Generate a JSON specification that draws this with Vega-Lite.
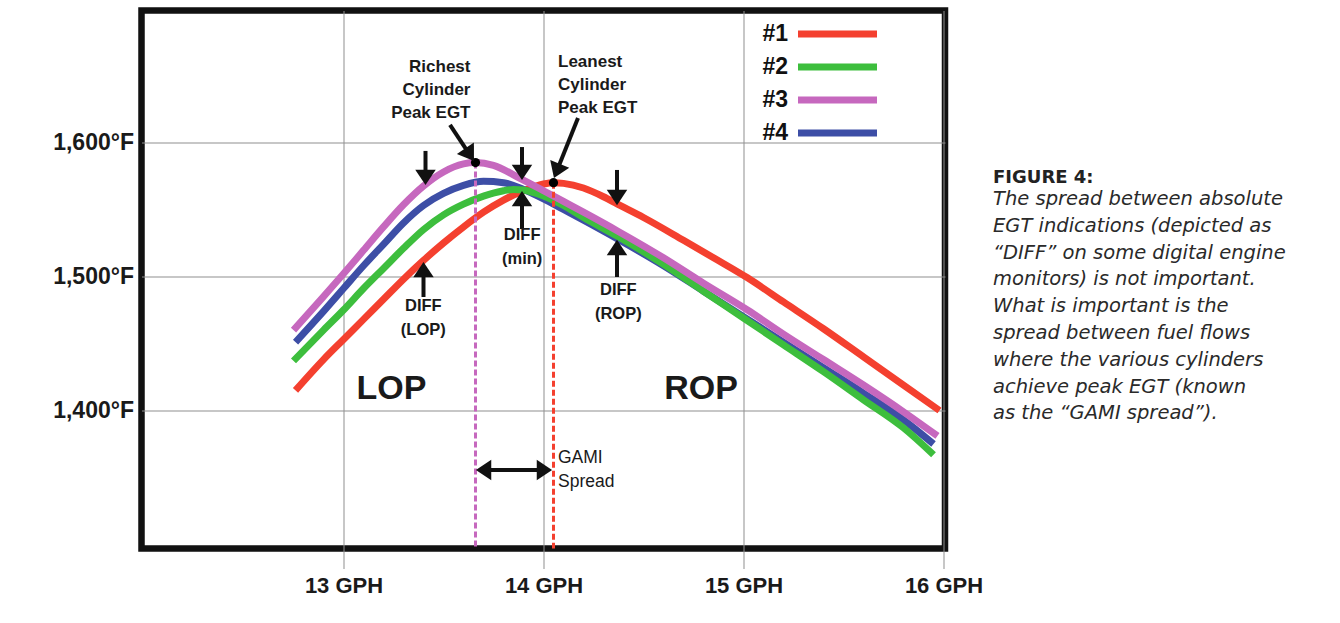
{
  "$schema": "https://vega.github.io/schema/vega-lite/v6.json",
  "width": 803.5,
  "height": 538,
  "autosize": {"type": "none"},
  "padding": {"left": 141.5, "top": 10.5, "right": 395, "bottom": 74.5},
  "background": "#ffffff",
  "config": {
    "view": {"stroke": "#111111", "strokeWidth": 6.5},
    "axis": {
      "domain": false,
      "grid": true,
      "gridColor": "#8f8f8f",
      "gridWidth": 1,
      "labelFont": "Liberation Sans",
      "labelFontWeight": "bold",
      "labelColor": "#1a1a1a",
      "labelFlush": false,
      "labelOverlap": false,
      "labelBound": false,
      "title": null
    },
    "text": {"color": "#1a1a1a"}
  },
  "datasets": {
    "curves": [
      {"cyl": "#1", "gph": 12.76, "egt": 1415},
      {"cyl": "#1", "gph": 12.9, "egt": 1438},
      {"cyl": "#1", "gph": 13.0, "egt": 1453},
      {"cyl": "#1", "gph": 13.1, "egt": 1468},
      {"cyl": "#1", "gph": 13.2, "egt": 1483},
      {"cyl": "#1", "gph": 13.3, "egt": 1498},
      {"cyl": "#1", "gph": 13.4, "egt": 1512},
      {"cyl": "#1", "gph": 13.5, "egt": 1525},
      {"cyl": "#1", "gph": 13.6, "egt": 1537},
      {"cyl": "#1", "gph": 13.7, "egt": 1548},
      {"cyl": "#1", "gph": 13.8, "egt": 1557},
      {"cyl": "#1", "gph": 13.9, "egt": 1564},
      {"cyl": "#1", "gph": 14.0, "egt": 1569},
      {"cyl": "#1", "gph": 14.05, "egt": 1570},
      {"cyl": "#1", "gph": 14.1, "egt": 1569.5},
      {"cyl": "#1", "gph": 14.2, "egt": 1566},
      {"cyl": "#1", "gph": 14.3, "egt": 1559.5},
      {"cyl": "#1", "gph": 14.37, "egt": 1554},
      {"cyl": "#1", "gph": 14.5, "egt": 1544},
      {"cyl": "#1", "gph": 14.7, "egt": 1527},
      {"cyl": "#1", "gph": 14.85, "egt": 1514},
      {"cyl": "#1", "gph": 15.02, "egt": 1499},
      {"cyl": "#1", "gph": 15.2, "egt": 1481},
      {"cyl": "#1", "gph": 15.4, "egt": 1461},
      {"cyl": "#1", "gph": 15.6, "egt": 1440},
      {"cyl": "#1", "gph": 15.8, "egt": 1419},
      {"cyl": "#1", "gph": 15.98, "egt": 1400},
      {"cyl": "#4", "gph": 12.76, "egt": 1451},
      {"cyl": "#4", "gph": 12.9, "egt": 1474},
      {"cyl": "#4", "gph": 13.0, "egt": 1491},
      {"cyl": "#4", "gph": 13.1, "egt": 1508},
      {"cyl": "#4", "gph": 13.2, "egt": 1524},
      {"cyl": "#4", "gph": 13.3, "egt": 1540},
      {"cyl": "#4", "gph": 13.4, "egt": 1553},
      {"cyl": "#4", "gph": 13.5, "egt": 1562},
      {"cyl": "#4", "gph": 13.6, "egt": 1568},
      {"cyl": "#4", "gph": 13.7, "egt": 1571},
      {"cyl": "#4", "gph": 13.8, "egt": 1570},
      {"cyl": "#4", "gph": 13.9, "egt": 1565},
      {"cyl": "#4", "gph": 14.0, "egt": 1558},
      {"cyl": "#4", "gph": 14.1, "egt": 1550},
      {"cyl": "#4", "gph": 14.2, "egt": 1542},
      {"cyl": "#4", "gph": 14.37, "egt": 1528},
      {"cyl": "#4", "gph": 14.6, "egt": 1508},
      {"cyl": "#4", "gph": 14.8, "egt": 1489},
      {"cyl": "#4", "gph": 15.0, "egt": 1470},
      {"cyl": "#4", "gph": 15.2, "egt": 1451},
      {"cyl": "#4", "gph": 15.4, "egt": 1432},
      {"cyl": "#4", "gph": 15.6, "egt": 1413},
      {"cyl": "#4", "gph": 15.8, "egt": 1393},
      {"cyl": "#4", "gph": 15.95, "egt": 1375},
      {"cyl": "#2", "gph": 12.75, "egt": 1437},
      {"cyl": "#2", "gph": 12.9, "egt": 1460},
      {"cyl": "#2", "gph": 13.0, "egt": 1475},
      {"cyl": "#2", "gph": 13.1, "egt": 1491},
      {"cyl": "#2", "gph": 13.2, "egt": 1506},
      {"cyl": "#2", "gph": 13.3, "egt": 1521},
      {"cyl": "#2", "gph": 13.4, "egt": 1535},
      {"cyl": "#2", "gph": 13.5, "egt": 1546},
      {"cyl": "#2", "gph": 13.6, "egt": 1554},
      {"cyl": "#2", "gph": 13.7, "egt": 1560},
      {"cyl": "#2", "gph": 13.8, "egt": 1564},
      {"cyl": "#2", "gph": 13.85, "egt": 1565},
      {"cyl": "#2", "gph": 13.9, "egt": 1564.5},
      {"cyl": "#2", "gph": 14.0, "egt": 1560},
      {"cyl": "#2", "gph": 14.1, "egt": 1553},
      {"cyl": "#2", "gph": 14.2, "egt": 1544},
      {"cyl": "#2", "gph": 14.37, "egt": 1530},
      {"cyl": "#2", "gph": 14.6, "egt": 1509},
      {"cyl": "#2", "gph": 14.8, "egt": 1489},
      {"cyl": "#2", "gph": 15.0, "egt": 1469},
      {"cyl": "#2", "gph": 15.2, "egt": 1449},
      {"cyl": "#2", "gph": 15.4, "egt": 1429},
      {"cyl": "#2", "gph": 15.6, "egt": 1408},
      {"cyl": "#2", "gph": 15.8, "egt": 1387},
      {"cyl": "#2", "gph": 15.95, "egt": 1367},
      {"cyl": "#3", "gph": 12.75, "egt": 1460},
      {"cyl": "#3", "gph": 12.9, "egt": 1485},
      {"cyl": "#3", "gph": 13.0, "egt": 1502},
      {"cyl": "#3", "gph": 13.1, "egt": 1519.5},
      {"cyl": "#3", "gph": 13.2, "egt": 1537},
      {"cyl": "#3", "gph": 13.3, "egt": 1553.5},
      {"cyl": "#3", "gph": 13.4, "egt": 1567.5},
      {"cyl": "#3", "gph": 13.5, "egt": 1578},
      {"cyl": "#3", "gph": 13.6, "egt": 1584},
      {"cyl": "#3", "gph": 13.66, "egt": 1585},
      {"cyl": "#3", "gph": 13.75, "egt": 1583},
      {"cyl": "#3", "gph": 13.885, "egt": 1573},
      {"cyl": "#3", "gph": 14.0, "egt": 1564},
      {"cyl": "#3", "gph": 14.1, "egt": 1556},
      {"cyl": "#3", "gph": 14.2, "egt": 1548},
      {"cyl": "#3", "gph": 14.37, "egt": 1534},
      {"cyl": "#3", "gph": 14.6, "egt": 1514},
      {"cyl": "#3", "gph": 14.8, "egt": 1495},
      {"cyl": "#3", "gph": 15.02, "egt": 1475},
      {"cyl": "#3", "gph": 15.2, "egt": 1457},
      {"cyl": "#3", "gph": 15.4, "egt": 1438},
      {"cyl": "#3", "gph": 15.6, "egt": 1419},
      {"cyl": "#3", "gph": 15.8, "egt": 1399},
      {"cyl": "#3", "gph": 15.97, "egt": 1381}
    ],
    "peaks": [
      {"cyl": "#3", "gph": 13.66, "egt": 1585},
      {"cyl": "#1", "gph": 14.05, "egt": 1570}
    ],
    "arrows": [
      {"id": "lop-down", "gph": 13.41, "egt": 1593.7, "gph2": 13.41, "egt2": 1571.3, "angle": 180},
      {"id": "min-down", "gph": 13.8925, "egt": 1596.6, "gph2": 13.8925, "egt2": 1575, "angle": 180},
      {"id": "rop-down", "gph": 14.3675, "egt": 1579.5, "gph2": 14.3675, "egt2": 1556.3, "angle": 180},
      {"id": "lop-up", "gph": 13.4, "egt": 1484.7, "gph2": 13.4, "egt2": 1507.8, "angle": 0},
      {"id": "min-up", "gph": 13.8925, "egt": 1535.4, "gph2": 13.8925, "egt2": 1560.8, "angle": 0},
      {"id": "rop-up", "gph": 14.3675, "egt": 1499.6, "gph2": 14.3675, "egt2": 1524.3, "angle": 0},
      {"id": "richest", "gph": 13.5325, "egt": 1613.1, "gph2": 13.641, "egt2": 1588.7, "angle": 146},
      {"id": "leanest", "gph": 14.1725, "egt": 1618.3, "gph2": 14.06, "egt2": 1576.3, "angle": 202},
      {"id": "gami-left", "gph": 13.8525, "egt": 1355.6, "gph2": 13.6825, "egt2": 1355.6, "angle": 270},
      {"id": "gami-right", "gph": 13.8525, "egt": 1355.6, "gph2": 14.0225, "egt2": 1355.6, "angle": 90}
    ],
    "notes": [
      {"role": "callout-right", "text": "Richest\nCylinder\nPeak EGT", "gph": 13.635, "egt": 1656.6},
      {"role": "callout-left", "text": "Leanest\nCylinder\nPeak EGT", "gph": 14.0725, "egt": 1660.3},
      {"role": "diff", "text": "DIFF\n(LOP)", "gph": 13.399, "egt": 1478.2},
      {"role": "diff", "text": "DIFF\n(min)", "gph": 13.8935, "egt": 1531},
      {"role": "diff", "text": "DIFF\n(ROP)", "gph": 14.374, "egt": 1489.9},
      {"role": "gami", "text": "GAMI\nSpread", "gph": 14.0725, "egt": 1364.6},
      {"role": "region", "text": "LOP", "gph": 13.24, "egt": 1416.4},
      {"role": "region", "text": "ROP", "gph": 14.7875, "egt": 1416.4},
      {"role": "caption-title", "text": "FIGURE 4:", "gph": 16.2475, "egt": 1569.6},
      {"role": "caption", "text": "The spread between absolute\nEGT indications (depicted as\n“DIFF” on some digital engine\nmonitors) is not important.\nWhat is important is the\nspread between fuel flows\nwhere the various cylinders\nachieve peak EGT (known\nas the “GAMI spread”).", "gph": 16.2475, "egt": 1553.4}
    ]
  },
  "layer": [
    {
      "data": {"name": "curves"},
      "mark": {"type": "line", "strokeWidth": 7, "interpolate": "monotone", "strokeCap": "butt"},
      "encoding": {
        "x": {
          "field": "gph", "type": "quantitative",
          "scale": {"domain": [11.99, 16.0075], "nice": false, "zero": false},
          "axis": {
            "values": [13, 14, 15, 16],
            "labelExpr": "datum.value + ' GPH'",
            "ticks": true, "tickSize": 20, "tickColor": "#8f8f8f", "tickWidth": 1,
            "labelFontSize": 22, "labelPadding": 7
          }
        },
        "y": {
          "field": "egt", "type": "quantitative",
          "scale": {"domain": [1297, 1698.5], "nice": false, "zero": false},
          "axis": {
            "values": [1400, 1500, 1600],
            "labelExpr": "format(datum.value, ',') + '°F'",
            "ticks": false, "labelPadding": 8, "labelFontSize": 23
          }
        },
        "color": {
          "field": "cyl", "type": "nominal",
          "scale": {"domain": ["#1", "#2", "#3", "#4"], "range": ["#f4402f", "#3dbe3d", "#c668be", "#3d4ea6"]},
          "legend": {
            "orient": "none", "legendX": 682.5, "legendY": 10, "title": null,
            "symbolType": "M-3.95,0H3.95", "symbolSize": 400, "symbolStrokeWidth": 7,
            "symbolOffset": 0,
            "labelOffset": -63, "labelAlign": "right",
            "labelFont": "Liberation Sans",
            "labelFontSize": 23, "labelFontWeight": "bold", "labelColor": "#111111",
            "padding": 0, "rowPadding": 4
          }
        }
      }
    },
    {
      "data": {"name": "peaks"},
      "mark": {"type": "rule", "strokeWidth": 3, "strokeDash": [6, 3]},
      "encoding": {
        "x": {"field": "gph", "type": "quantitative"},
        "y": {"field": "egt", "type": "quantitative"},
        "y2": {"datum": 1297},
        "color": {"field": "cyl", "type": "nominal", "legend": null}
      }
    },
    {
      "data": {"name": "peaks"},
      "mark": {"type": "point", "filled": true, "color": "#000000", "size": 85, "opacity": 1},
      "encoding": {
        "x": {"field": "gph", "type": "quantitative"},
        "y": {"field": "egt", "type": "quantitative"}
      }
    },
    {
      "data": {"name": "arrows"},
      "mark": {"type": "rule", "strokeWidth": 4, "color": "#111111"},
      "encoding": {
        "x": {"field": "gph", "type": "quantitative"},
        "y": {"field": "egt", "type": "quantitative"},
        "x2": {"field": "gph2"},
        "y2": {"field": "egt2"}
      }
    },
    {
      "data": {"name": "arrows"},
      "mark": {"type": "point", "filled": true, "color": "#111111", "opacity": 1, "size": 420, "shape": "M0,-0.4L-1,1.1L1,1.1Z"},
      "encoding": {
        "x": {"field": "gph2", "type": "quantitative"},
        "y": {"field": "egt2", "type": "quantitative"},
        "angle": {"field": "angle", "type": "quantitative", "scale": null}
      }
    },
    {
      "data": {"name": "notes"},
      "transform": [{"filter": "datum.role == 'callout-right'"}],
      "mark": {"type": "text", "align": "right", "baseline": "middle", "lineBreak": "\n", "lineHeight": 23.3, "font": "Liberation Sans", "fontWeight": "bold", "fontSize": 17},
      "encoding": {"x": {"field": "gph", "type": "quantitative"}, "y": {"field": "egt", "type": "quantitative"}, "text": {"field": "text"}}
    },
    {
      "data": {"name": "notes"},
      "transform": [{"filter": "datum.role == 'callout-left'"}],
      "mark": {"type": "text", "align": "left", "baseline": "middle", "lineBreak": "\n", "lineHeight": 23.3, "font": "Liberation Sans", "fontWeight": "bold", "fontSize": 17},
      "encoding": {"x": {"field": "gph", "type": "quantitative"}, "y": {"field": "egt", "type": "quantitative"}, "text": {"field": "text"}}
    },
    {
      "data": {"name": "notes"},
      "transform": [{"filter": "datum.role == 'diff'"}],
      "mark": {"type": "text", "align": "center", "baseline": "middle", "lineBreak": "\n", "lineHeight": 24, "font": "Liberation Sans", "fontWeight": "bold", "fontSize": 16.5},
      "encoding": {"x": {"field": "gph", "type": "quantitative"}, "y": {"field": "egt", "type": "quantitative"}, "text": {"field": "text"}}
    },
    {
      "data": {"name": "notes"},
      "transform": [{"filter": "datum.role == 'gami'"}],
      "mark": {"type": "text", "align": "left", "baseline": "middle", "lineBreak": "\n", "lineHeight": 23.7, "font": "Liberation Sans", "fontWeight": "normal", "fontSize": 17.5},
      "encoding": {"x": {"field": "gph", "type": "quantitative"}, "y": {"field": "egt", "type": "quantitative"}, "text": {"field": "text"}}
    },
    {
      "data": {"name": "notes"},
      "transform": [{"filter": "datum.role == 'region'"}],
      "mark": {"type": "text", "align": "center", "baseline": "middle", "font": "Liberation Sans", "fontWeight": "bold", "fontSize": 34},
      "encoding": {"x": {"field": "gph", "type": "quantitative"}, "y": {"field": "egt", "type": "quantitative"}, "text": {"field": "text"}}
    },
    {
      "data": {"name": "notes"},
      "transform": [{"filter": "datum.role == 'caption-title'"}],
      "mark": {"type": "text", "align": "left", "baseline": "alphabetic", "font": "DejaVu Sans", "fontWeight": "bold", "fontSize": 18, "color": "#222222"},
      "encoding": {"x": {"field": "gph", "type": "quantitative"}, "y": {"field": "egt", "type": "quantitative"}, "text": {"field": "text"}}
    },
    {
      "data": {"name": "notes"},
      "transform": [{"filter": "datum.role == 'caption'"}],
      "mark": {"type": "text", "align": "left", "baseline": "alphabetic", "lineBreak": "\n", "lineHeight": 26.8, "font": "DejaVu Sans", "fontStyle": "italic", "fontWeight": "normal", "fontSize": 19.5, "color": "#2a2a2a"},
      "encoding": {"x": {"field": "gph", "type": "quantitative"}, "y": {"field": "egt", "type": "quantitative"}, "text": {"field": "text"}}
    }
  ]
}
